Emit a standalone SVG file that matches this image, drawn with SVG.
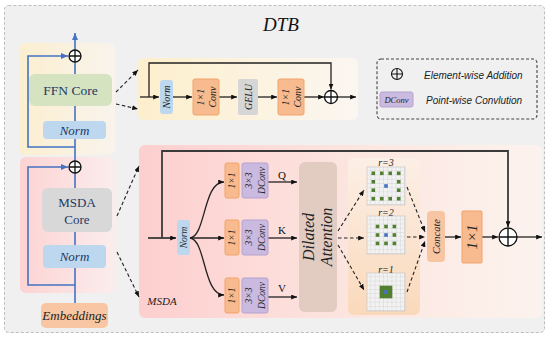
<svg xmlns="http://www.w3.org/2000/svg" width="550" height="340" viewBox="0 0 550 340">
<defs>
<style>
.serif{font-family:"Liberation Serif","DejaVu Serif",serif;}
.it{font-style:italic;}
.core{font-family:"Liberation Serif","DejaVu Serif",serif;fill:#1f3864;text-anchor:middle;}
.lbl{font-family:"Liberation Serif","DejaVu Serif",serif;font-style:italic;fill:#222;text-anchor:middle;}
.leg{font-family:"Liberation Sans","DejaVu Sans",sans-serif;font-style:italic;font-size:10px;fill:#222;}
.blue{stroke:#4472c4;stroke-width:1.6;fill:none;}
.ln{stroke:#222;stroke-width:1.3;fill:none;}
.skip{stroke:#3a3a3a;stroke-width:1.8;fill:none;}
.dash{stroke:#222;stroke-width:1.1;fill:none;stroke-dasharray:3.5,2.5;}
.norm{fill:#bdd7ee;}
.conv{fill:#f7bb8f;stroke:#f1a36b;stroke-width:1;}
.dconv{fill:#cbbadf;stroke:#b7a2d0;stroke-width:1;}
.plus{fill:#ffffff;stroke:#111;stroke-width:1.3;}
.g{fill:#528030;}
.b{fill:#4472c4;}
</style>
<marker id="ah" viewBox="0 0 7 6" refX="7" refY="3" markerWidth="6" markerHeight="5" markerUnits="userSpaceOnUse" orient="auto"><path d="M0,0 L7,3 L0,6 z" fill="#111"/></marker>
<marker id="ahb" viewBox="0 0 7 6" refX="7" refY="3" markerWidth="7" markerHeight="6" markerUnits="userSpaceOnUse" orient="auto"><path d="M0,0 L7,3 L0,6 z" fill="#4472c4"/></marker>
<linearGradient id="gFfn" x1="0" y1="0" x2="1" y2="0"><stop offset="0" stop-color="#fcefd0"/><stop offset="1" stop-color="#f8f3ec"/></linearGradient>
<linearGradient id="gMs" x1="0" y1="0" x2="1" y2="0"><stop offset="0" stop-color="#fdd3d3"/><stop offset="1" stop-color="#fbeded"/></linearGradient>
<linearGradient id="gMsP" x1="0" y1="0" x2="1" y2="0"><stop offset="0" stop-color="#fdcfcf"/><stop offset="0.55" stop-color="#fce6e0"/><stop offset="1" stop-color="#fcf3ee"/></linearGradient>
<linearGradient id="gFp" x1="0" y1="0" x2="1" y2="0"><stop offset="0" stop-color="#fdefcc"/><stop offset="1" stop-color="#fbf6f1"/></linearGradient>
<linearGradient id="gGr" x1="0" y1="0" x2="0" y2="1"><stop offset="0" stop-color="#fcefe6"/><stop offset="1" stop-color="#fad9bb"/></linearGradient>
<pattern id="cells" width="4.222" height="4.222" patternUnits="userSpaceOnUse"><rect width="4.222" height="4.222" fill="#f2f2f2"/><path d="M4.222,0 V4.222 H0" stroke="#c4c4c4" stroke-width="0.6" fill="none"/></pattern>
</defs>

<rect width="550" height="340" fill="#ffffff"/>
<rect id="frame" x="4.5" y="5.5" width="540" height="327" rx="4" fill="#f0f0f0" stroke="#bdbdbd" stroke-dasharray="3,2"/>
<text class="serif it" x="281" y="31" font-size="19" text-anchor="middle" fill="#111">DTB</text>

<!-- container panels -->
<g id="panels">
<rect id="ffnBlock" x="19" y="43" width="96" height="112" rx="6" fill="url(#gFfn)"/>
<rect id="msdaBlock" x="20" y="157" width="95" height="136" rx="6" fill="url(#gMs)"/>
<rect id="ffnPanel" x="138" y="58" width="220" height="62" rx="6" fill="url(#gFp)"/>
<rect id="msdaPanel" x="139" y="145" width="403" height="173" rx="6" fill="url(#gMsP)"/>
<rect id="gridPanel" x="348" y="158" width="72" height="157" rx="6" fill="url(#gGr)"/>
<text class="lbl" x="162" y="305" font-size="11">MSDA</text>
</g>

<g id="connectors">
<!-- left trunk -->
<line class="blue" x1="75" y1="303" x2="75" y2="33" marker-end="url(#ahb)"/>
<path class="blue" d="M75,147 H28 V56 H68" marker-end="url(#ahb)"/>
<path class="blue" d="M75,285 H28 V167 H68" marker-end="url(#ahb)"/>
<!-- dashed zoom arrows -->
<line class="dash" x1="116" y1="92" x2="138" y2="70" marker-end="url(#ah)"/>
<line class="dash" x1="116" y1="104" x2="138" y2="109" marker-end="url(#ah)"/>
<line class="dash" x1="117" y1="216" x2="139" y2="166" marker-end="url(#ah)"/>
<line class="dash" x1="117" y1="252" x2="139" y2="297" marker-end="url(#ah)"/>
<!-- FFN panel -->
<line class="ln" x1="140" y1="97" x2="159" y2="97" marker-end="url(#ah)"/>
<path class="ln" d="M149,97 V63 H331 V89.5" marker-end="url(#ah)"/>
<line class="ln" x1="173" y1="97" x2="192" y2="97" marker-end="url(#ah)"/>
<line class="ln" x1="219" y1="97" x2="237" y2="97" marker-end="url(#ah)"/>
<line class="ln" x1="258" y1="97" x2="277" y2="97" marker-end="url(#ah)"/>
<line class="ln" x1="304" y1="97" x2="324" y2="97" marker-end="url(#ah)"/>
<line class="ln" x1="337.5" y1="97" x2="356" y2="97" marker-end="url(#ah)"/>
<!-- MSDA panel -->
<line class="skip" x1="148" y1="238" x2="176" y2="238" marker-end="url(#ah)"/>
<path class="skip" d="M162,238 V151 H508 V227" marker-end="url(#ah)"/>
<path class="ln" d="M190,238 C206,236 203,182 224,182" marker-end="url(#ah)"/>
<line class="ln" x1="190" y1="238" x2="224" y2="238" marker-end="url(#ah)"/>
<path class="ln" d="M190,238 C206,240 203,295 224,295" marker-end="url(#ah)"/>
<line class="ln" x1="268" y1="182" x2="297" y2="182" marker-end="url(#ah)"/>
<line class="ln" x1="268" y1="238" x2="297" y2="238" marker-end="url(#ah)"/>
<line class="ln" x1="268" y1="297" x2="297" y2="297" marker-end="url(#ah)"/>
<line class="dash" x1="338" y1="231" x2="364" y2="190" marker-end="url(#ah)"/>
<line class="dash" x1="338" y1="238" x2="364" y2="238" marker-end="url(#ah)"/>
<line class="dash" x1="338" y1="245" x2="364" y2="290" marker-end="url(#ah)"/>
<line class="dash" x1="407" y1="187" x2="425" y2="232" marker-end="url(#ah)"/>
<line class="dash" x1="407" y1="237" x2="425" y2="237" marker-end="url(#ah)"/>
<line class="dash" x1="407" y1="292" x2="425" y2="241" marker-end="url(#ah)"/>
<line class="ln" x1="445" y1="237" x2="461" y2="237" marker-end="url(#ah)"/>
<line class="ln" x1="482" y1="237" x2="498" y2="237" marker-end="url(#ah)"/>
<line class="ln" x1="517" y1="237" x2="542" y2="237" marker-end="url(#ah)"/>
</g>

<!-- left stack nodes -->
<g id="ffnPlus"><circle class="plus" cx="75" cy="56" r="6"/><path d="M69,56 H81 M75,50 V62" stroke="#111" stroke-width="1.3"/></g>
<g id="ffnCore"><rect x="29" y="74" width="83" height="32" rx="6" fill="#d5e3c1"/><text class="core" x="70.5" y="95" font-size="13.5">FFN Core</text></g>
<g id="ffnNorm"><rect x="43" y="121" width="63" height="18" rx="4" class="norm"/><text class="core it" x="74.5" y="134.5" font-size="13">Norm</text></g>
<g id="msdaPlus"><circle class="plus" cx="75" cy="167" r="6"/><path d="M69,167 H81 M75,161 V173" stroke="#111" stroke-width="1.3"/></g>
<g id="msdaCore"><rect x="42" y="188" width="70" height="44" rx="6" fill="#d8d8d8"/><text class="core" x="77" y="207" font-size="13">MSDA</text><text class="core" x="77" y="224" font-size="13">Core</text></g>
<g id="msdaNorm"><rect x="43" y="245" width="63" height="23" rx="4" class="norm"/><text class="core it" x="74.5" y="261" font-size="13">Norm</text></g>
<g id="embeddings"><rect x="41" y="303" width="67" height="25" rx="5" fill="#f8c6a2"/><text class="lbl" x="74.5" y="320" font-size="13" fill="#333">Embeddings</text></g>

<!-- FFN panel nodes -->
<g id="fNorm"><rect x="160" y="80" width="13" height="34" rx="3" class="norm"/><text class="lbl" font-size="10" transform="translate(166.5,97) rotate(-90)" y="3.5">Norm</text></g>
<g id="fConv1"><rect x="193" y="79" width="26" height="36" rx="2" class="conv"/><text class="lbl" font-size="10" transform="translate(206,97) rotate(-90)"><tspan x="0" y="-2">1×1</tspan><tspan x="0" y="10">Conv</tspan></text></g>
<g id="fGelu"><rect x="238" y="79" width="20" height="36" rx="2" fill="#d6d6d6"/><text class="lbl" font-size="10" transform="translate(248,97) rotate(-90)" y="3.5">GELU</text></g>
<g id="fConv2"><rect x="278" y="79" width="26" height="36" rx="2" class="conv"/><text class="lbl" font-size="10" transform="translate(291,97) rotate(-90)"><tspan x="0" y="-2">1×1</tspan><tspan x="0" y="10">Conv</tspan></text></g>
<g id="fPlus"><circle class="plus" cx="331" cy="97" r="6.5"/><path d="M324.5,97 H337.5 M331,90.5 V103.5" stroke="#111" stroke-width="1.3"/></g>

<!-- legend -->
<g id="legend">
<rect x="377" y="59" width="160" height="60" rx="4" fill="none" stroke="#444" stroke-width="1.1" stroke-dasharray="3,2"/>
<circle cx="397" cy="74" r="5.5" fill="none" stroke="#111" stroke-width="1.1"/><path d="M391.5,74 H402.5 M397,68.5 V79.5" stroke="#111" stroke-width="1.1"/>
<text class="leg" x="424" y="79">Element-wise Addition</text>
<rect x="380" y="92" width="33" height="15" rx="2" class="dconv"/>
<text class="lbl" x="396.5" y="102.5" font-size="8.5" fill="#4b3a78">DConv</text>
<text class="leg" x="426" y="104">Point-wise Convlution</text>
</g>

<!-- MSDA panel nodes -->
<g id="mNorm"><rect x="177" y="220" width="13" height="35" rx="3" class="norm"/><text class="lbl" font-size="9.5" transform="translate(183.5,237.5) rotate(-90)" y="3.2">Norm</text></g>
<g id="q1x1"><rect x="225" y="163" width="14" height="35" rx="2" class="conv"/><text class="lbl" font-size="9.5" transform="translate(232,180.5) rotate(-90)" y="3.2">1×1</text></g>
<g id="qDconv"><rect x="242" y="163" width="26" height="35" rx="2" class="dconv"/><text class="lbl" font-size="9.5" transform="translate(255,180.5) rotate(-90)"><tspan x="0" y="-3.5">3×3</tspan><tspan x="0" y="9.5">DConv</tspan></text></g>
<g id="k1x1"><rect x="225" y="220" width="14" height="35" rx="2" class="conv"/><text class="lbl" font-size="9.5" transform="translate(232,237.5) rotate(-90)" y="3.2">1×1</text></g>
<g id="kDconv"><rect x="242" y="220" width="26" height="35" rx="2" class="dconv"/><text class="lbl" font-size="9.5" transform="translate(255,237.5) rotate(-90)"><tspan x="0" y="-3.5">3×3</tspan><tspan x="0" y="9.5">DConv</tspan></text></g>
<g id="v1x1"><rect x="225" y="278" width="14" height="35" rx="2" class="conv"/><text class="lbl" font-size="9.5" transform="translate(232,295.5) rotate(-90)" y="3.2">1×1</text></g>
<g id="vDconv"><rect x="242" y="278" width="26" height="35" rx="2" class="dconv"/><text class="lbl" font-size="9.5" transform="translate(255,295.5) rotate(-90)"><tspan x="0" y="-3.5">3×3</tspan><tspan x="0" y="9.5">DConv</tspan></text></g>
<text class="serif" x="282" y="179" font-size="11" text-anchor="middle" fill="#111">Q</text>
<text class="serif" x="282" y="234" font-size="11" text-anchor="middle" fill="#111">K</text>
<text class="serif" x="282" y="292" font-size="11" text-anchor="middle" fill="#111">V</text>
<g id="dilatedAttention"><rect x="299" y="162" width="38" height="150" rx="6" fill="#e2cbc1"/><text class="lbl" font-size="16" transform="translate(318,237) rotate(-90)"><tspan x="0" y="-4">Dilated</tspan><tspan x="0" y="14">Attention</tspan></text></g>

<g id="grid3">
<text class="lbl" x="386" y="166" font-size="10" fill="#444">r=3</text>
<g transform="translate(367,167)">
<rect width="38" height="38" fill="url(#cells)" stroke="#c4c4c4" stroke-width="0.6"/>
<rect class="g" x="4.5" y="4.5" width="3.6" height="3.6"/><rect class="g" x="13" y="4.5" width="3.6" height="3.6"/><rect class="g" x="21.4" y="4.5" width="3.6" height="3.6"/><rect class="g" x="29.9" y="4.5" width="3.6" height="3.6"/>
<rect class="g" x="4.5" y="13" width="3.6" height="3.6"/><rect class="g" x="29.9" y="13" width="3.6" height="3.6"/>
<rect class="g" x="4.5" y="21.4" width="3.6" height="3.6"/><rect class="g" x="29.9" y="21.4" width="3.6" height="3.6"/>
<rect class="g" x="4.5" y="29.9" width="3.6" height="3.6"/><rect class="g" x="13" y="29.9" width="3.6" height="3.6"/><rect class="g" x="21.4" y="29.9" width="3.6" height="3.6"/><rect class="g" x="29.9" y="29.9" width="3.6" height="3.6"/>
<rect class="b" x="17.2" y="17.2" width="3.6" height="3.6"/>
</g>
</g>
<g id="grid2">
<text class="lbl" x="386" y="215.5" font-size="10" fill="#444">r=2</text>
<g transform="translate(367,216)">
<rect width="38" height="38" fill="url(#cells)" stroke="#c4c4c4" stroke-width="0.6"/>
<rect class="g" x="8.7" y="8.7" width="3.6" height="3.6"/><rect class="g" x="17.2" y="8.7" width="3.6" height="3.6"/><rect class="g" x="25.6" y="8.7" width="3.6" height="3.6"/>
<rect class="g" x="8.7" y="17.2" width="3.6" height="3.6"/><rect class="g" x="25.6" y="17.2" width="3.6" height="3.6"/>
<rect class="g" x="8.7" y="25.6" width="3.6" height="3.6"/><rect class="g" x="17.2" y="25.6" width="3.6" height="3.6"/><rect class="g" x="25.6" y="25.6" width="3.6" height="3.6"/>
<rect class="b" x="17.2" y="17.2" width="3.6" height="3.6"/>
</g>
</g>
<g id="grid1">
<text class="lbl" x="386" y="272.5" font-size="10" fill="#444">r=1</text>
<g transform="translate(367,273)">
<rect width="38" height="38" fill="url(#cells)" stroke="#c4c4c4" stroke-width="0.6"/>
<rect class="g" x="12.67" y="12.67" width="12.67" height="12.67"/>
<rect class="b" x="17.1" y="17.1" width="3.8" height="3.8"/>
</g>
</g>

<g id="concat"><rect x="427" y="211" width="18" height="51" rx="4" fill="#f8c5a3"/><text class="lbl" font-size="10.5" transform="translate(436,236.5) rotate(-90)" y="3.5" fill="#333">Concate</text></g>
<g id="out1x1"><rect x="462" y="211" width="20" height="52" rx="1" class="conv"/><text class="lbl" font-size="15" transform="translate(472,237) rotate(-90)" y="5">1×1</text></g>
<g id="mPlus"><circle class="plus" cx="508" cy="237" r="9"/><path d="M499,237 H517 M508,228 V246" stroke="#111" stroke-width="1.4"/></g>
</svg>
